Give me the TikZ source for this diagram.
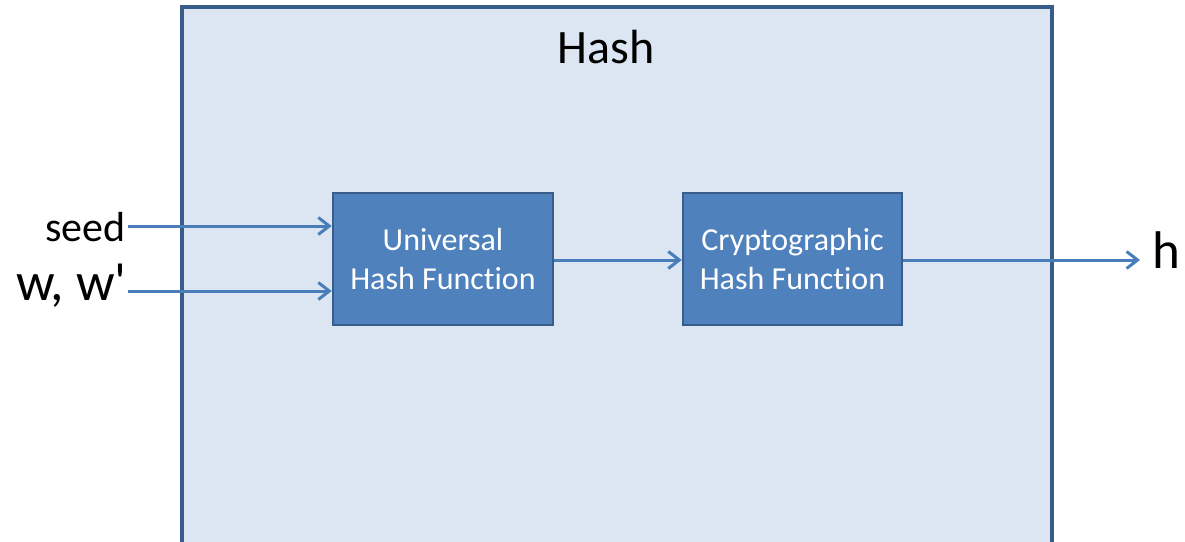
\documentclass[tikz,border=0pt]{standalone}
\usepackage{fontspec}
\setmainfont{Carlito}[Ligatures={TeX,NoCommon}]
\usetikzlibrary{arrows.meta}
\definecolor{outerfill}{HTML}{DCE6F2}
\definecolor{darkline}{HTML}{385D8A}
\definecolor{innerfill}{HTML}{4F81BD}
\definecolor{arrowcol}{HTML}{4A7EBB}
\tikzset{
  outerbox/.style={draw=darkline, fill=outerfill, line width=3.5pt, minimum width=870pt, minimum height=560pt, inner sep=0pt},
  funcbox/.style={draw=darkline, fill=innerfill, line width=2.5pt, minimum height=132pt, inner sep=0pt, align=center, text=white, font=\fontsize{32}{39}\selectfont},
  conn/.style={draw=arrowcol, line width=3pt, -{Straight Barb[length=11pt,width=17pt,line width=3pt]}},
  lbl/.style={inner sep=0pt, text=black}
}
\begin{document}
\begin{tikzpicture}[x=1pt,y=-1pt]
\useasboundingbox (0,0) rectangle (1185,541);
\begin{scope}
\clip (0,0) rectangle (1185,541);
\node[outerbox] (hashbox) at (617,287) {};
\end{scope}
\node[lbl, anchor=base, font=\fontsize{48}{58}\selectfont] (title) at (606,63) {Hash};
\node[funcbox, minimum width=220pt] (uhf) at (443,259) {Universal\\Hash Function};
\node[funcbox, minimum width=219pt] (chf) at (792.5,259) {Cryptographic\\Hash Function};
\node[lbl, anchor=base east, font=\fontsize{42}{50}\selectfont] (seed) at (126,241) {seed};
\node[lbl, anchor=base east, font=\fontsize{54}{64}\selectfont] (w) at (127,300) {w, w\textquotesingle};
\node[lbl, anchor=base west, font=\fontsize{53}{64}\selectfont] (h) at (1152,268) {h};
\coordinate (seedstart) at (128,226);
\coordinate (wstart) at (128,291);
\coordinate (hend) at (1140,260);
\draw[conn] (seedstart) -- (seedstart -| uhf.west);
\draw[conn] (wstart) -- (wstart -| uhf.west);
\draw[conn] (uhf.east |- hend) -- (chf.west |- hend);
\draw[conn] (chf.east |- hend) -- (hend);
\end{tikzpicture}
\end{document}
